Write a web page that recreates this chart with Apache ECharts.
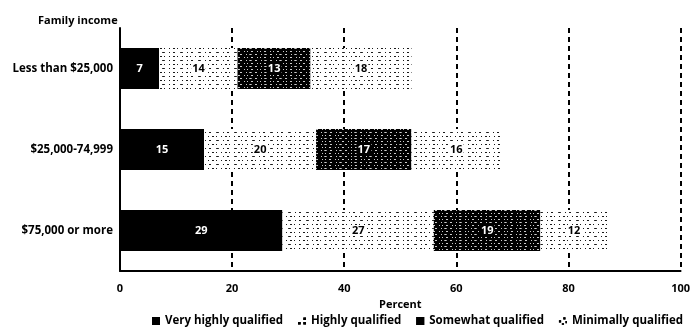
<!DOCTYPE html>
<html>
<head>
<meta charset="utf-8">
<script src="https://cdn.jsdelivr.net/npm/echarts@6/dist/echarts.min.js"></script>
<style>
  html, body { margin: 0; padding: 0; background: #fff; }
  #chart { width: 693px; height: 329px; }
</style>
</head>
<body>
<div id="chart"></div>
<script>
// data (percent of each income group)
var categories = ['Less than $25,000', '$25,000-74,999', '$75,000 or more'];
var seriesNames = ['Very highly qualified', 'Highly qualified', 'Somewhat qualified', 'Minimally qualified'];
var veryHighly = [7, 15, 29];
var highly = [14, 20, 27];
var somewhat = [13, 17, 19];
var minimally = [18, 16, 12];
var xTicks = { min: 0, max: 100, interval: 20 };

var font = '"Open Sans", "DejaVu Sans Condensed", sans-serif';

// speckle patterns for the scanned fills
var lightDecal = {
    color: '#000',
    backgroundColor: '#fff',
    symbol: 'rect',
    symbolSize: 0.9,
    dashArrayX: [[3, 4, 1, 3, 2, 5], [1, 3, 2, 2, 1, 4]],
    dashArrayY: [1, 3],
    rotation: 0
};
var darkDecal = {
    color: '#fff',
    backgroundColor: '#000',
    symbol: 'rect',
    symbolSize: 0.8,
    dashArrayX: [[1, 3, 2, 4, 1, 2], [2, 4, 1, 2, 3, 3]],
    dashArrayY: [1, 2],
    rotation: 0
};
// plain fill for the legend swatches
var noDecal = { symbol: 'none', color: '#000', backgroundColor: '#000' };

function makeSeries(name, data, dark, solid) {
    var itemStyle = { color: dark ? '#000' : '#fff' };
    if (!solid) {
        itemStyle.decal = dark ? darkDecal : lightDecal;
    }
    return {
        name: name,
        type: 'bar',
        stack: 'total',
        barWidth: 41,
        data: data,
        itemStyle: itemStyle,
        label: {
            show: true,
            position: 'inside',
            color: dark ? '#fff' : '#000',
            backgroundColor: solid ? 'transparent' : (dark ? '#000' : '#fff'),
            padding: [0, 1],
            fontFamily: font,
            fontWeight: 'bold',
            fontSize: 11
        }
    };
}

var myChart = echarts.init(document.getElementById('chart'), null, { renderer: 'canvas' });

var option = {
    backgroundColor: '#fff',
    animation: false,
    title: {
        text: 'Family income',
        left: 33,
        top: 10,
        textStyle: { fontFamily: font, fontWeight: 'bold', fontSize: 11, color: '#000' }
    },
    legend: {
        bottom: -3,
        left: 147,
        itemGap: 15,
        itemWidth: 8,
        itemHeight: 8,
        textStyle: { fontFamily: font, fontWeight: 'bold', fontSize: 11.5, color: '#000' },
        data: [
            { name: seriesNames[0], icon: 'rect', itemStyle: { color: '#000' } },
            { name: seriesNames[1], icon: 'path://M0,7h3v3h-3z M6,2h3v3h-3z M6,7h3v3h-3z', itemStyle: { color: '#000', decal: noDecal } },
            { name: seriesNames[2], icon: 'rect', itemStyle: { color: '#000', decal: noDecal } },
            { name: seriesNames[3], icon: 'path://M0,4h3v3h-3z M6,0h3v3h-3z M4,8h3v2h-3z M9,5h2v3h-2z', itemStyle: { color: '#000', decal: noDecal } }
        ]
    },
    grid: {
        left: 120,
        right: 5,
        top: 28,
        bottom: 58
    },
    xAxis: {
        type: 'value',
        min: xTicks.min,
        max: xTicks.max,
        interval: xTicks.interval,
        name: 'Percent',
        nameLocation: 'middle',
        nameGap: 28,
        nameTextStyle: { fontFamily: font, fontWeight: 'bold', fontSize: 11, color: '#000' },
        axisLine: { show: true, lineStyle: { color: '#000', width: 2 } },
        axisTick: { show: false },
        axisLabel: { margin: 12, fontFamily: font, fontWeight: 'bold', fontSize: 11, color: '#000' },
        splitLine: {
            show: true,
            lineStyle: { color: '#000', width: 2, type: [5, 4] }
        }
    },
    yAxis: {
        type: 'category',
        inverse: true,
        data: categories,
        axisLine: { show: true, lineStyle: { color: '#000', width: 2 } },
        axisTick: { show: false },
        axisLabel: { margin: 7, fontFamily: font, fontWeight: 'bold', fontSize: 11.5, color: '#000' }
    },
    series: [
        makeSeries(seriesNames[0], veryHighly, true, true),
        makeSeries(seriesNames[1], highly, false, false),
        makeSeries(seriesNames[2], somewhat, true, false),
        makeSeries(seriesNames[3], minimally, false, false)
    ]
};
myChart.setOption(option);
</script>
</body>
</html>
